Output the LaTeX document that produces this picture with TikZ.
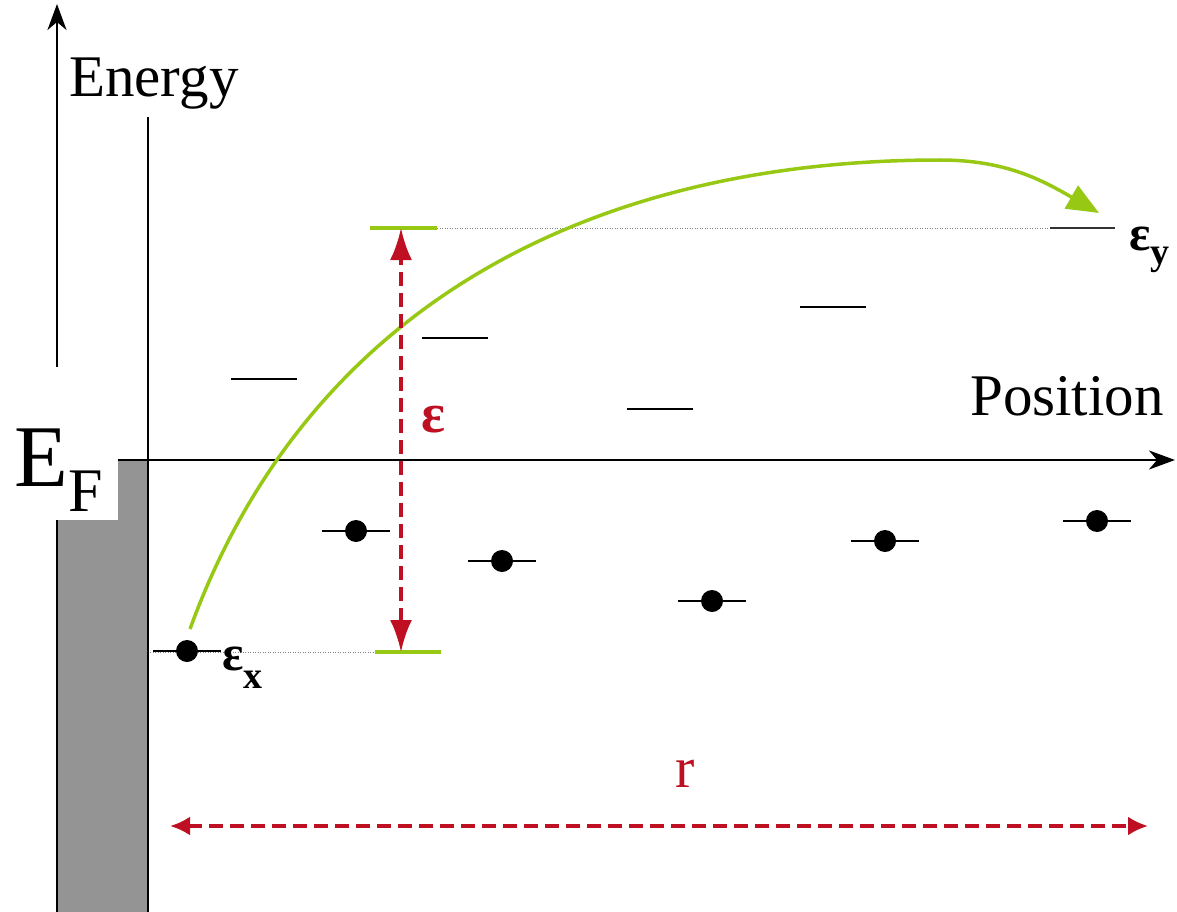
\documentclass[tikz,border=0pt]{standalone}
\usepackage{fontspec}
\setmainfont{Liberation Serif}
\usepackage{tikz}
\usetikzlibrary{arrows.meta,positioning}
\definecolor{hopgreen}{RGB}{150,200,20}
\definecolor{gapred}{RGB}{190,15,35}

\begin{document}
\begin{tikzpicture}[x=1pt,y=-1pt,
  level/.style={line width=1.8pt},
  electron/.style={circle,fill=black,inner sep=0pt,minimum size=22pt},
  axis/.style={line width=2.6pt,-{Stealth[length=26pt,width=19pt,inset=8pt]}},
  gap/.style={gapred,line width=3.5pt,dash pattern=on 14pt off 7pt},
  guide/.style={gray,line width=0.8pt,dash pattern=on 1pt off 1.5pt},
  bar/.style={hopgreen,line width=3.5pt},
  label/.style={inner sep=0pt,anchor=base west},
  big/.style={font=\fontsize{59}{62}\selectfont}]
  \useasboundingbox (0,0) rectangle (1177,912);

  % 金属電極
  \filldraw[fill=black!42,draw=black,line width=1.8pt] (57,460) rectangle (148,920);
  \draw[line width=1.8pt] (148,117) -- (148,920);

  % 軸
  \coordinate (ebot) at (57,367);
  \coordinate (etop) at (57,4);
  \coordinate (pleft) at (100,460);
  \coordinate (pright) at (1175,460);
  \draw[axis] (ebot) -- (etop);
  \draw[axis] (pleft) -- (pright);
  \node[label,big] (energy) at (69,97) {Energy};
  \node[label,big] (position) at (970,415) {Position};
  \node[fill=white,inner sep=0pt,minimum width=118pt,minimum height=100pt,
    anchor=south east] (fermi) at (118,520)
    {\fontsize{88}{90}\selectfont E\raisebox{-25pt}{\fontsize{62}{64}\selectfont F}};

  % 補助線とエネルギー幅
  \draw[guide] (150,652) -- (375,652);
  \draw[guide] (437,228) -- (1050,228);
  \coordinate (gtop) at (401,228);
  \coordinate (gbot) at (401,652);
  \draw[bar] (370,228) -- (437,228);
  \draw[bar] (375,652) -- (441,652);

  % 空の準位
  \foreach \x/\y in {264/379, 455/338, 660/409, 833/307}
    \draw[level] (\x-33,\y) -- (\x+33,\y);
  \draw[level,black!80] (1050,228) -- (1115,228);

  % 占有された準位
  \foreach \x/\y [count=\i] in {187/651, 356/531, 502/561, 712/601, 885/541, 1097/521} {
    \draw[level] (\x-34,\y) -- (\x+34,\y);
    \node[electron] (e\i) at (\x,\y) {};
  }

  % ホッピング
  \coordinate (hop) at (190,629);
  \coordinate (land) at (1099,213);
  \draw[hopgreen,line width=3.5pt,-{Triangle[length=32pt,width=26pt]}]
    (hop) to[out=70,in=180] (940,160) to[out=0,in=150] (land);

  \draw[gap,{Latex[length=32pt,width=22pt]}-{Latex[length=32pt,width=22pt]}] (gbot) -- (gtop);
  \node[label,gapred,font=\bfseries\fontsize{56}{60}\selectfont] (eps) at (421,432) {ε};

  % 距離
  \coordinate (rleft) at (170,826);
  \coordinate (rright) at (1148,826);
  \draw[gap,{Latex[length=20pt,width=19pt]}-{Latex[length=20pt,width=19pt]}] (rleft) -- (rright);
  \node[label,gapred,font=\fontsize{58}{60}\selectfont] (dist) at (675,787) {r};

  % ラベル
  \node[label] (epsx) at (222,670)
    {\bfseries\fontsize{50}{52}\selectfont ε\raisebox{-18pt}{\fontsize{38}{40}\selectfont x}};
  \node[label] (epsy) at (1129,250)
    {\bfseries\fontsize{50}{52}\selectfont ε\raisebox{-14pt}{\fontsize{38}{40}\selectfont y}};
\end{tikzpicture}
\end{document}
